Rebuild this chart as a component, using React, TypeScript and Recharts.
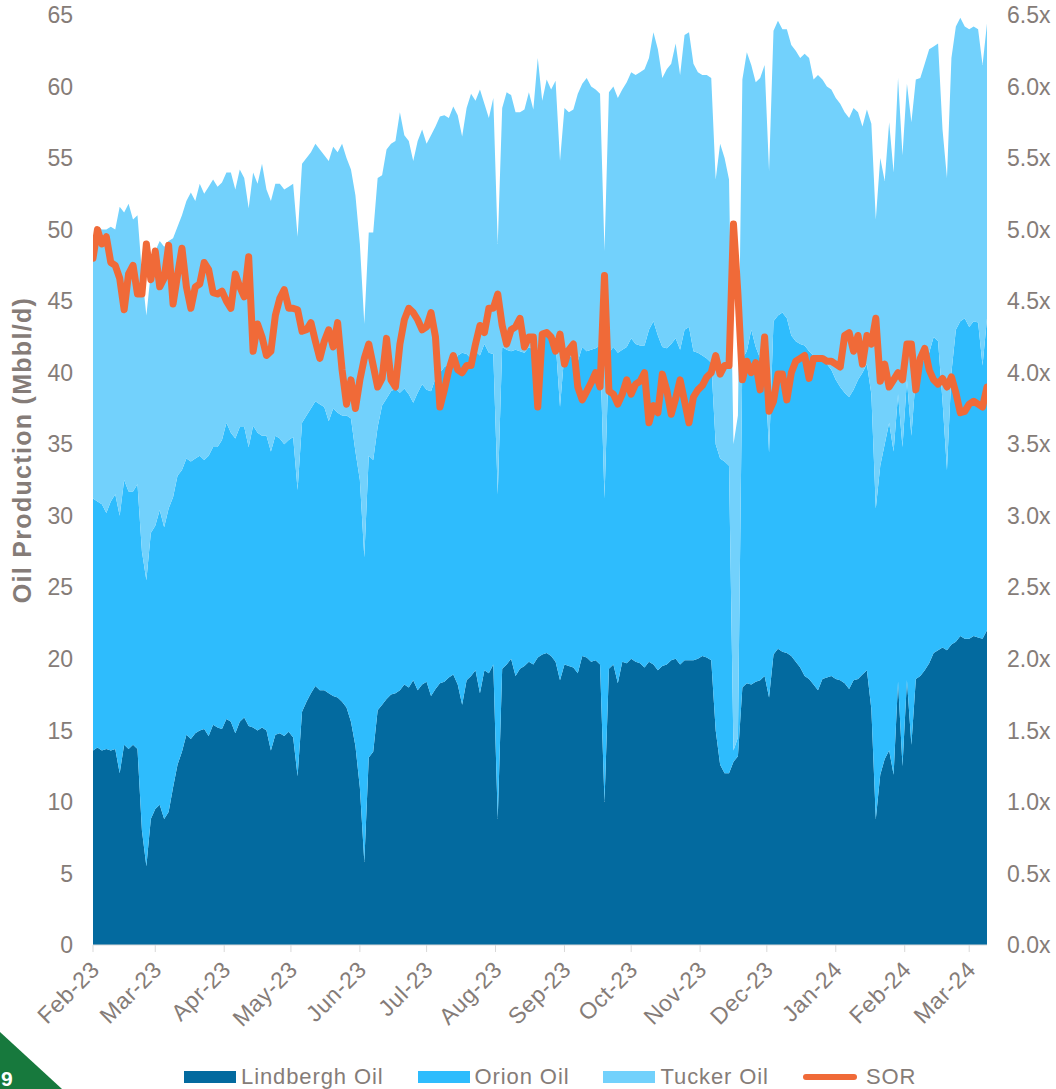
import React from 'react';
import { ComposedChart, Area, Line, XAxis, YAxis, Legend } from 'recharts';

// Daily production sampled every 2 days starting Feb 1, 2023 (Mbbl/d)
const lindbergh = [
  13.6,13.8,13.6,13.7,13.6,13.7,12.0,14.0,13.7,14.0,
  13.7,8.0,5.5,8.8,9.5,9.8,8.8,9.3,11.0,12.6,
  13.5,14.7,14.4,14.8,15.0,15.1,14.6,15.4,15.2,15.1,
  15.8,15.6,14.8,15.6,15.9,15.3,15.2,15.0,15.2,15.0,
  13.6,14.7,14.8,14.6,14.9,14.5,11.8,16.3,17.0,17.6,
  18.1,17.8,17.8,17.6,17.4,17.3,17.0,16.6,15.6,13.9,
  11.0,5.8,13.1,13.5,16.4,16.8,17.2,17.5,17.6,17.8,
  18.2,18.0,18.5,17.8,18.2,18.4,17.4,17.9,18.3,18.4,
  18.7,18.9,18.2,16.8,18.5,18.8,19.2,17.6,19.2,19.0,
  19.6,8.8,19.3,19.6,20.0,18.8,19.3,19.5,19.8,19.6,
  20.1,20.3,20.4,20.2,19.8,18.5,19.6,19.5,19.4,19.0,
  20.2,20.1,19.8,19.9,19.6,10.0,19.3,19.6,18.3,19.8,
  19.7,20.0,19.8,19.7,19.4,19.8,19.6,19.2,19.5,19.6,
  19.9,20.0,19.6,19.9,19.9,19.9,20.0,20.2,20.1,19.9,
  15.0,12.6,12.0,12.0,12.8,13.2,18.0,18.3,18.2,18.4,
  18.5,18.8,17.3,20.3,20.7,20.5,20.4,20.2,19.8,19.4,
  18.8,18.6,18.2,17.8,18.6,18.7,18.8,18.6,18.5,18.3,
  17.9,18.5,18.6,18.9,19.2,16.5,8.8,11.9,13.0,13.6,
  11.9,18.4,12.5,18.5,14.0,18.6,18.8,19.2,19.7,20.4,
  20.6,20.8,20.6,21.0,21.2,21.6,21.4,21.4,21.6,21.5,
  21.4,22.0,
];

const orion = [
  17.6,17.2,17.2,16.5,17.4,17.8,18.0,18.5,18.0,17.7,
  18.5,19.5,20.0,20.0,19.8,20.6,20.4,21.2,20.3,20.2,
  19.7,19.3,19.4,19.2,19.2,18.8,19.6,19.4,19.6,20.2,
  20.7,20.2,20.6,20.6,20.3,19.5,21.1,20.8,20.4,20.6,
  20.9,20.9,20.6,20.4,20.4,21.0,20.0,20.2,20.0,19.9,
  19.9,20.0,19.8,19.0,20.1,19.9,20.0,20.4,21.2,20.6,
  21.5,21.3,21.1,20.4,19.8,20.9,21.0,21.2,21.3,20.8,
  20.7,20.5,19.4,20.8,21.0,20.4,21.3,21.7,21.7,22.0,
  21.9,21.6,23.0,24.6,22.8,22.2,22.3,23.6,22.8,22.4,
  21.7,22.7,22.5,22.0,21.5,22.8,22.2,21.9,22.0,22.0,
  21.5,21.9,22.4,22.4,22.4,19.1,21.8,21.7,21.6,21.8,
  21.6,21.4,21.8,21.8,22.3,21.2,22.1,22.2,23.1,21.8,
  22.1,22.4,22.2,22.2,22.5,23.2,24.0,23.4,22.3,22.1,
  22.1,22.4,22.0,23.1,23.3,21.6,21.4,21.0,20.9,20.8,
  20.0,21.4,21.8,21.5,0.8,1.3,23.0,23.2,24.8,23.4,
  22.5,22.4,17.1,23.3,23.3,23.7,23.4,22.4,22.4,22.6,
  23.1,22.9,23.0,23.2,22.6,21.9,21.4,20.9,20.5,20.3,
  20.4,20.3,20.9,21.1,21.4,22.0,21.7,21.6,22.0,22.9,
  22.6,20.1,22.3,21.0,21.6,21.2,21.7,21.8,21.7,22.1,
  21.6,17.2,12.6,19.0,21.8,22.0,22.4,21.8,22.0,22.0,
  19.1,21.8,
];

const tucker = [
  16.6,19.2,19.2,19.8,19.2,18.5,21.6,18.7,20.1,19.0,
  18.8,19.5,18.5,18.2,19.2,18.8,19.6,18.7,18.1,17.4,
  17.8,18.0,18.8,18.0,19.0,18.6,18.8,18.7,18.2,18.0,
  17.5,18.2,17.4,18.0,17.4,16.7,17.7,17.4,19.0,17.2,
  17.5,17.6,17.8,17.8,17.7,17.7,17.7,18.1,18.0,17.9,
  18.0,17.8,17.6,18.2,18.3,18.2,19.0,18.0,17.4,17.9,
  16.5,16.3,15.6,15.9,17.4,16.1,17.4,17.3,17.3,19.6,
  17.7,17.7,16.9,17.6,17.8,17.2,17.9,17.6,17.9,17.6,
  17.2,18.1,16.8,15.1,17.2,18.5,17.5,18.6,16.8,16.4,
  17.9,17.5,16.7,18.0,17.9,16.6,16.7,17.0,17.8,16.8,
  20.4,16.8,17.7,17.2,18.2,17.2,17.1,17.0,17.4,18.7,
  18.4,19.1,18.4,18.1,17.6,17.3,18.2,18.2,17.8,18.2,
  18.5,18.6,18.8,19.1,19.3,19.0,20.2,20.0,18.8,19.5,
  19.6,20.6,19.2,20.6,20.6,20.1,19.6,19.6,19.8,19.9,
  18.5,22.0,21.2,20.0,21.4,22.5,19.5,20.9,18.5,18.5,
  19.6,20.3,19.7,20.3,20.6,19.8,20.2,20.3,20.3,20.0,
  20.4,20.5,19.3,19.8,19.3,19.4,19.6,19.7,19.8,19.6,
  19.5,19.7,18.7,17.2,17.8,18.9,20.2,21.5,18.4,21.0,
  19.5,22.1,20.4,20.7,21.9,20.7,20.1,20.6,21.2,20.3,
  20.8,19.0,20.4,22.0,21.2,21.2,20.4,20.8,20.6,20.5,
  21.0,20.6,
];

// Steam-oil ratio (x)
const sor = [
  4.80,5.00,4.90,4.95,4.77,4.75,4.66,4.44,4.69,4.75,
  4.55,4.55,4.90,4.65,4.85,4.60,4.66,4.89,4.48,4.68,
  4.87,4.60,4.45,4.60,4.62,4.77,4.72,4.56,4.55,4.57,
  4.50,4.45,4.69,4.60,4.53,4.81,4.15,4.34,4.25,4.12,
  4.15,4.40,4.52,4.58,4.45,4.45,4.44,4.29,4.30,4.35,
  4.22,4.10,4.22,4.30,4.18,4.35,4.02,3.78,3.95,3.75,
  3.95,4.10,4.20,4.05,3.90,3.96,4.24,3.95,3.90,4.20,
  4.37,4.45,4.42,4.37,4.30,4.32,4.42,4.25,3.76,3.88,
  4.02,4.12,4.02,4.00,4.05,4.05,4.20,4.33,4.28,4.45,
  4.45,4.55,4.33,4.20,4.30,4.32,4.38,4.18,4.25,4.25,
  3.76,4.27,4.28,4.25,4.15,4.27,4.06,4.16,4.20,3.90,
  3.81,3.87,3.93,4.00,3.90,4.68,3.87,3.85,3.78,3.85,
  3.95,3.85,3.92,3.94,4.00,3.65,3.77,3.72,3.99,3.88,
  3.71,3.82,3.95,3.80,3.65,3.83,3.88,3.91,3.97,4.00,
  4.12,3.99,4.05,4.05,5.04,4.55,3.95,4.08,4.00,4.07,
  3.88,4.25,3.73,3.80,3.99,3.99,3.81,4.00,4.08,4.10,
  4.12,3.96,4.10,4.10,4.10,4.08,4.08,4.06,4.04,4.26,
  4.28,4.15,4.26,4.06,4.26,4.20,4.38,3.94,4.06,3.90,
  3.95,4.00,3.95,4.20,4.20,3.88,4.10,4.17,4.02,3.95,
  3.92,3.96,3.90,3.97,3.86,3.72,3.73,3.78,3.80,3.78,
  3.76,3.90,
];

// Day offsets (from Feb 1, 2023) of each month start, and their labels
const monthTicks = [0, 28, 59, 89, 120, 150, 181, 212, 242, 273, 303, 334, 365, 394];
const monthLabels = ['Feb-23', 'Mar-23', 'Apr-23', 'May-23', 'Jun-23', 'Jul-23', 'Aug-23', 'Sep-23', 'Oct-23', 'Nov-23', 'Dec-23', 'Jan-24', 'Feb-24', 'Mar-24'];
const leftTicks = [0, 5, 10, 15, 20, 25, 30, 35, 40, 45, 50, 55, 60, 65];
const rightTicks = [0, 0.5, 1, 1.5, 2, 2.5, 3, 3.5, 4, 4.5, 5, 5.5, 6, 6.5];

const SAMPLE_STEP_DAYS = 2;

const rows = lindbergh.map((v, i) => ({
  day: i * SAMPLE_STEP_DAYS,
  lindbergh: v,
  orion: orion[i],
  tucker: tucker[i],
  sor: sor[i],
}));

const COLORS = {
  lindbergh: '#036A9F',
  orion: '#2EBCFD',
  tucker: '#72D1FC',
  sor: '#F06A38',
  text: '#857C78',
  axis: '#D9D9D9',
};
const FONT = '"Liberation Sans", Arial, Helvetica, sans-serif';

const XTick = (props: any) => {
  const { x, y, payload } = props;
  const idx = monthTicks.indexOf(payload.value);
  const label = idx >= 0 ? monthLabels[idx] : '';
  return (
    <text
      transform={`translate(${x + 8},${y + 19}) rotate(-45)`}
      textAnchor="end"
      fill={COLORS.text}
      fontSize={23}
      fontFamily={FONT}
      letterSpacing={0.6}
    >
      {label}
    </text>
  );
};

const YLabel = () => (
  <text
    transform="translate(31,450) rotate(-90)"
    textAnchor="middle"
    fill={COLORS.text}
    fontSize={25}
    fontWeight="bold"
    fontFamily={FONT}
    letterSpacing={1.3}
  >
    Oil Production (Mbbl/d)
  </text>
);

const legendItems = [
  { name: 'Lindbergh Oil', color: COLORS.lindbergh, kind: 'rect' },
  { name: 'Orion Oil', color: COLORS.orion, kind: 'rect' },
  { name: 'Tucker Oil', color: COLORS.tucker, kind: 'rect' },
  { name: 'SOR', color: COLORS.sor, kind: 'line' },
];

const LegendContent = () => (
  <div
    style={{
      height: 32,
      boxSizing: 'border-box',
      paddingTop: 8,
      paddingLeft: 184,
      display: 'flex',
      alignItems: 'center',
      fontFamily: FONT,
      fontSize: 22,
      letterSpacing: 0.9,
      color: COLORS.text,
      whiteSpace: 'nowrap',
    }}
  >
    {legendItems.map((it, i) => (
      <div key={it.name} style={{ display: 'flex', alignItems: 'center', marginRight: i < legendItems.length - 1 ? 34 : 0 }}>
        {it.kind === 'rect' ? (
          <span style={{ display: 'inline-block', width: 52, height: 12, background: it.color, marginRight: 5 }} />
        ) : (
          <svg width={54} height={12} style={{ marginRight: 9 }}>
            <line x1={3} y1={6} x2={51} y2={6} stroke={it.color} strokeWidth={6} strokeLinecap="round" />
          </svg>
        )}
        <span style={{ lineHeight: '24px' }}>{it.name}</span>
      </div>
    ))}
  </div>
);

export default function App() {
  return (
    <div style={{ position: 'absolute', left: 0, top: 0, width: 1056, height: 1089, background: '#fff', overflow: 'hidden', fontFamily: FONT }}>
      <ComposedChart width={1056} height={1089} data={rows} margin={{ top: 15, right: 0, bottom: 0, left: 0 }}>
        <XAxis
          dataKey="day"
          type="number"
          domain={[0, 402]}
          ticks={monthTicks}
          interval={0}
          height={112}
          tick={<XTick />}
          tickSize={7}
          tickMargin={0}
          axisLine={{ stroke: COLORS.axis }}
          tickLine={{ stroke: COLORS.axis }}
          allowDataOverflow
        />
        <YAxis
          yAxisId="left"
          orientation="left"
          width={93}
          domain={[0, 65]}
          ticks={leftTicks}
          interval={0}
          axisLine={false}
          tickLine={false}
          tickSize={0}
          tickMargin={20}
          tick={{ fill: COLORS.text, fontSize: 23, fontFamily: FONT }}
          label={<YLabel />}
        />
        <YAxis
          yAxisId="right"
          orientation="right"
          width={69}
          domain={[0, 6.5]}
          ticks={rightTicks}
          interval={0}
          axisLine={false}
          tickLine={false}
          tickSize={0}
          tickMargin={20}
          tickFormatter={(v: number) => `${v.toFixed(1)}x`}
          tick={{ fill: COLORS.text, fontSize: 23, fontFamily: FONT, textAnchor: 'start' }}
        />
        <Area yAxisId="left" type="linear" dataKey="lindbergh" name="Lindbergh Oil" stackId="oil" stroke="none" fill={COLORS.lindbergh} fillOpacity={1} isAnimationActive={false} />
        <Area yAxisId="left" type="linear" dataKey="orion" name="Orion Oil" stackId="oil" stroke="none" fill={COLORS.orion} fillOpacity={1} isAnimationActive={false} />
        <Area yAxisId="left" type="linear" dataKey="tucker" name="Tucker Oil" stackId="oil" stroke="none" fill={COLORS.tucker} fillOpacity={1} isAnimationActive={false} />
        <Line yAxisId="right" type="linear" dataKey="sor" name="SOR" stroke={COLORS.sor} strokeWidth={7} strokeLinejoin="round" strokeLinecap="round" dot={false} activeDot={false} isAnimationActive={false} />
        <Legend verticalAlign="bottom" align="left" content={<LegendContent />} wrapperStyle={{ left: 0, width: 1056 }} />
      </ComposedChart>
      <svg width={80} height={70} style={{ position: 'absolute', left: 0, top: 1019 }}>
        <polygon points="0,13 62,70 0,70" fill="#17793D" />
        <text x={1} y={67} fill="#fff" fontSize={21} fontWeight="bold" fontFamily={FONT}>9</text>
      </svg>
    </div>
  );
}
